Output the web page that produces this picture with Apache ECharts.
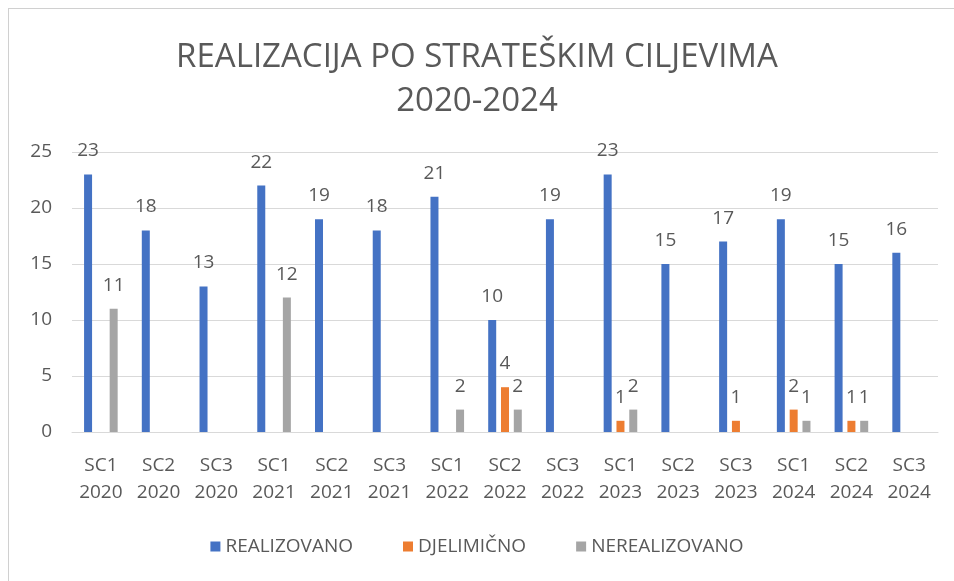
<!DOCTYPE html>
<html>
<head>
<meta charset="utf-8">
<script src="https://cdn.jsdelivr.net/npm/echarts@6/dist/echarts.min.js"></script>
<style>
  html, body { margin: 0; padding: 0; background: #fff; }
  #frame { position: absolute; left: 8px; top: 8px; width: 960px; height: 580px; border-left: 1px solid #d0d0d0; border-top: 1px solid #d0d0d0; }
  #chart { position: absolute; left: 0; top: 0; width: 954px; height: 581px; }
</style>
</head>
<body>
<div id="frame"></div>
<div id="chart"></div>
<script>
// kategorije i vrijednosti
const categories = ['SC1\n2020', 'SC2\n2020', 'SC3\n2020', 'SC1\n2021', 'SC2\n2021', 'SC3\n2021',
  'SC1\n2022', 'SC2\n2022', 'SC3\n2022', 'SC1\n2023', 'SC2\n2023', 'SC3\n2023',
  'SC1\n2024', 'SC2\n2024', 'SC3\n2024'];
const realizovano = [23, 18, 13, 22, 19, 18, 21, 10, 19, 23, 15, 17, 19, 15, 16];
const djelimicno = [null, null, null, null, null, null, null, 4, null, 1, null, 1, 2, 1, null];
const nerealizovano = [11, null, null, 12, null, null, 2, 2, null, 2, null, null, 1, 1, null];
const yTicks = [0, 5, 10, 15, 20, 25];

const font = 'Open Sans';
const textGray = '#595959';

const labelStyle = {
  show: true,
  position: 'top',
  distance: 14,
  color: textGray,
  fontFamily: font,
  fontSize: 19
};

function bar(name, data, color) {
  return {
    name: name,
    type: 'bar',
    data: data,
    barWidth: 8,
    barGap: '60%',
    itemStyle: { color: color },
    label: labelStyle
  };
}

const chart = echarts.init(document.getElementById('chart'));
chart.setOption({
  animation: false,
  title: {
    text: 'REALIZACIJA PO STRATEŠKIM CILJEVIMA\n2020-2024',
    left: 'center',
    top: 31,
    textStyle: {
      fontFamily: font,
      fontWeight: 'normal',
      fontSize: 33,
      color: textGray,
      lineHeight: 44
    }
  },
  legend: {
    bottom: 20,
    left: 'center',
    itemWidth: 10,
    itemHeight: 10,
    itemGap: 50,
    icon: 'rect',
    textStyle: { fontFamily: font, fontSize: 19, color: textGray }
  },
  grid: { left: 72, right: 16, top: 152, bottom: 149 },
  xAxis: {
    type: 'category',
    data: categories,
    axisTick: { show: false },
    axisLine: { lineStyle: { color: '#d9d9d9' } },
    axisLabel: {
      fontFamily: font,
      fontSize: 19,
      color: textGray,
      lineHeight: 27,
      margin: 20,
      interval: 0
    }
  },
  yAxis: {
    type: 'value',
    min: yTicks[0],
    max: yTicks[yTicks.length - 1],
    interval: 5,
    axisLine: { show: false },
    axisTick: { show: false },
    splitLine: { lineStyle: { color: '#d9d9d9' } },
    axisLabel: { fontFamily: font, fontSize: 19, color: textGray, margin: 20 }
  },
  series: [
    bar('REALIZOVANO', realizovano, '#4472c4'),
    bar('DJELIMIČNO', djelimicno, '#ed7d31'),
    bar('NEREALIZOVANO', nerealizovano, '#a5a5a5')
  ]
});
</script>
</body>
</html>
